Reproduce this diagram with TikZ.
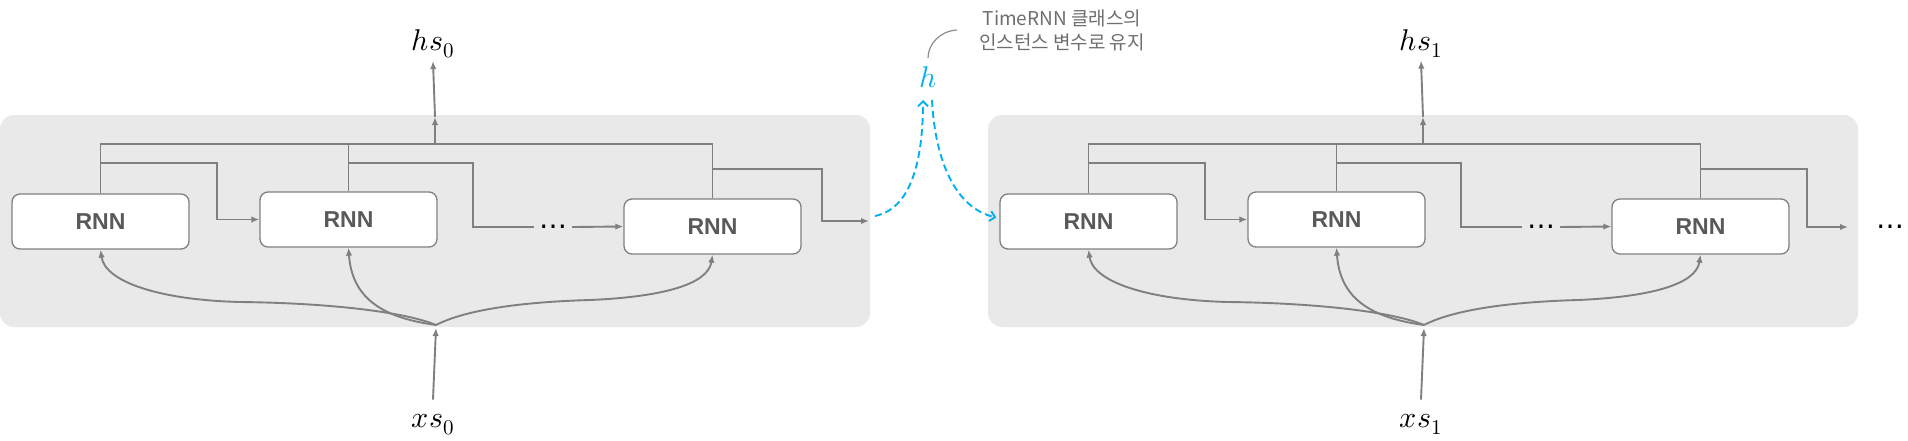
\documentclass[tikz,border=0pt]{standalone}
\usepackage{fontspec}
\usepackage{unicode-math}
\setmathfont{Latin Modern Math}
\newfontfamily\krfont{Noto Sans CJK KR}
\newfontfamily\rnnfont{Liberation Sans}
\newfontfamily\dotfont{DejaVu Sans}
\usetikzlibrary{arrows.meta,calc}
\definecolor{panel}{HTML}{E9E9E9}
\definecolor{lgray}{HTML}{808080}
\definecolor{tgray}{HTML}{595959}
\definecolor{ngray}{HTML}{6E6E6E}
\definecolor{hblue}{HTML}{00B0F0}
\begin{document}
\begin{tikzpicture}[x=1pt,y=-1pt,
  rnnbox/.style={draw=lgray, line width=1.3pt, fill=white, rounded corners=8pt,
    minimum width=177pt, minimum height=55pt, inner sep=0pt,
    font=\rnnfont\bfseries\fontsize{23}{27}\selectfont, text=tgray},
  wire/.style={draw=lgray, line width=1.9pt},
  arr/.style={wire, -{Latex[length=8pt,width=6.5pt]}},
  lbl/.style={font=\fontsize{30}{36}\selectfont, inner sep=2pt, anchor=base},
  dotsnode/.style={font=\dotfont\fontsize{28}{32}\selectfont, inner xsep=5pt, inner ysep=2pt},
  bluedash/.style={draw=hblue, line width=1.9pt, dash pattern=on 7pt off 4pt,
    -{Straight Barb[length=5pt,width=10pt]}},
]
\useasboundingbox (0,0) rectangle (1908,440);

\foreach \p/\o/\i/\d/\e/\f in {a/0/0/221/822/869, b/988/1/227/819/860} {
  \begin{scope}[xshift=\o pt]
    \fill[panel, rounded corners=14pt] (0,115) rectangle (870,327);
    \node[rnnbox] (\p1) at (100.5,221.5) {RNN};
    \node[rnnbox] (\p2) at (348.5,219.5) {RNN};
    \node[rnnbox] (\p3) at (712.5,226.5) {RNN};
    \node[lbl] (hs\i) at (433,50) {$hs_{\i}$};
    \node[lbl] (xs\i) at (433,427) {$xs_{\i}$};
    \node[dotsnode] (\p d) at (553,227) {…};
    \coordinate (\p J) at (436,325);
    \coordinate (\p T) at (435,117);
    \coordinate (\p B) at (435,144);
    \coordinate (\p k) at (473,227);
    \coordinate (\p o) at (\f,\d);
    % output bus
    \draw[wire] (\p1.north) -- (\p1.north |- \p B) -- (\p3.north |- \p B) -- (\p3.north);
    \draw[wire] (\p2.north) -- (\p2.north |- \p B);
    \draw[arr] (\p B) -- (\p T);
    \draw[arr] (\p T) -- ([yshift=-1pt]hs\i.south);
    % recurrent connections
    \draw[arr] (\p1.north |- 0,163) -| ([xshift=-42pt]\p2.west) -- (\p2.west);
    \draw[wire] (\p2.north |- 0,163) -| (\p k) -- (\p d.west);
    \draw[arr] (\p d.east) -- (\p3.west);
    \draw[arr] (\p3.north |- 0,169) -| (\e,\d) -- (\p o);
    % inputs
    \draw[arr] ([yshift=12pt]xs\i.north) -- ([yshift=-3pt]\p J);
    \draw[arr] (\p J) .. controls (405,312) and (330,303) .. (240,302)
                      .. controls (160,300) and (105,282) .. (\p1.south);
    \draw[arr] (\p J) .. controls (385,318) and (352,300) .. (\p2.south);
    \draw[arr] (\p J) .. controls (465,310) and (520,302) .. (590,300)
                      .. controls (660,297) and (708,285) .. (\p3.south);
  \end{scope}
}

% hidden state h between the blocks
\node[lbl, text=hblue] (h) at (928,87) {$h$};
\coordinate (hin) at (923,100);
\coordinate (hout) at (932,100);
\coordinate (hstart) at (875,216);
\draw[bluedash] (hstart) .. controls (915,208) and (923,150) .. (hin);
\draw[bluedash] (hout) .. controls (935,160) and (955,208) .. ([xshift=-3pt,yshift=4pt]b1.west);

% annotation
\node[font=\krfont\fontsize{19}{24}\selectfont, text=ngray, align=center, inner sep=0pt]
  (note) at (1062,30) {TimeRNN 클래스의\\인스턴스 변수로 유지};
\coordinate (c1) at (957,30);
\coordinate (c2) at (928,58);
\draw[draw=lgray!90, line width=1.2pt] (c1) .. controls (940,31) and (928,44) .. (c2);

% trailing dots
\node[dotsnode] (enddots) at (1890,227) {…};
\end{tikzpicture}
\end{document}
